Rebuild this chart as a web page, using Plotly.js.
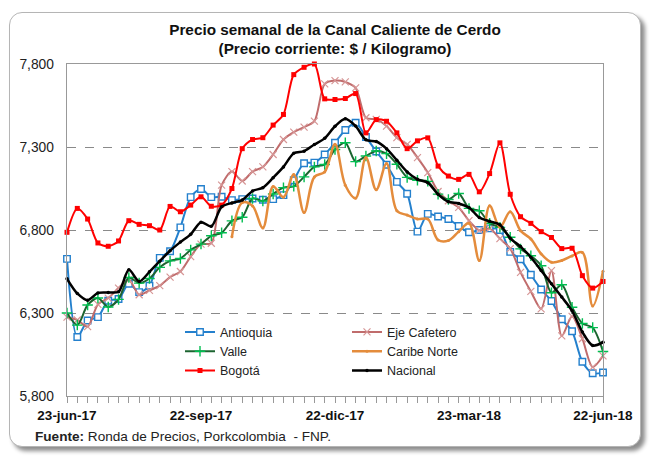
<!DOCTYPE html>
<html>
<head>
<meta charset="utf-8">
<script src="https://cdn.plot.ly/plotly-3.0.1.min.js"></script>
<style>
html,body{margin:0;padding:0;background:#fff;}
#wrap{position:relative;width:651px;height:456px;overflow:hidden;}
#frame{position:absolute;left:9px;top:12px;width:630px;height:433px;border:1.5px solid #b5b5b5;border-radius:13px;box-shadow:4px 4px 4px rgba(0,0,0,0.45);background:#fff;}
#chart{position:absolute;left:0;top:0;width:651px;height:456px;}
</style>
</head>
<body>
<div id="wrap"><div id="frame"></div><div id="chart"></div></div>
<script>
const weeks = [
 '2017-06-23','2017-06-30','2017-07-07','2017-07-14','2017-07-21','2017-07-28','2017-08-04','2017-08-11','2017-08-18','2017-08-25',
 '2017-09-01','2017-09-08','2017-09-15','2017-09-22','2017-09-29','2017-10-06','2017-10-13','2017-10-20','2017-10-27','2017-11-03',
 '2017-11-10','2017-11-17','2017-11-24','2017-12-01','2017-12-08','2017-12-15','2017-12-22','2017-12-29','2018-01-05','2018-01-12',
 '2018-01-19','2018-01-26','2018-02-02','2018-02-09','2018-02-16','2018-02-23','2018-03-02','2018-03-09','2018-03-16','2018-03-23',
 '2018-03-30','2018-04-06','2018-04-13','2018-04-20','2018-04-27','2018-05-04','2018-05-11','2018-05-18','2018-05-25','2018-06-01',
 '2018-06-08','2018-06-15','2018-06-22'];

const labelDates = ['2017-06-23','2017-09-22','2017-12-22','2018-03-23','2018-06-22'];
const labelTexts = ['23-jun-17','22-sep-17','22-dic-17','23-mar-18','22-jun-18'];

const antioquia = [6626,6155,6255,6275,6374,6384,6476,6426,6464,6632,6672,6816,6998,7047,6998,7000,6980,6986,6990,6982,
 6986,7010,7100,7202,7206,7255,7326,7402,7446,7360,7273,7193,7090,7018,6790,6897,6881,6866,6824,6786,
 6800,6810,6800,6668,6624,6530,6442,6372,6262,6190,6006,5937,5942];
const ejeCafetero = [6275,6258,6218,6352,6390,6450,6500,6410,6436,6465,6516,6550,6640,6715,6720,7070,7152,7095,7152,7180,
 7255,7345,7390,7420,7456,7680,7700,7692,7656,7476,7466,7426,7356,7316,7236,7146,7032,6976,6936,6856,
 6798,6808,6748,6688,6545,6430,6325,6555,6162,6280,6145,5974,6042];
const valle = [6300,6227,6348,6390,6336,6382,6514,6480,6508,6575,6614,6628,6680,6715,6765,6783,6855,6877,6990,6975,
 7017,7055,7063,7120,7180,7195,7285,7326,7212,7246,7276,7260,7196,7117,7100,7093,7016,6984,7020,6930,
 6916,6840,6816,6756,6686,6645,6585,6422,6470,6335,6237,6212,6068];
const caribeNorte = [null,null,null,null,null,null,null,null,null,null,null,null,null,null,null,null,6760,6965,6945,6812,
 7062,6998,7135,6905,7120,7150,7316,7070,6992,7236,7042,7200,6916,6890,6866,6866,6740,6736,6790,6840,
 6616,6946,6816,6910,6796,6746,6656,6606,6616,6644,6665,6342,6552];
const bogota = [6786,6930,6866,6722,6702,6734,6856,6834,6826,6800,6942,6910,6950,7000,6943,6950,7050,7290,7345,7356,
 7432,7496,7736,7780,7800,7590,7586,7592,7622,7385,7465,7455,7385,7290,7337,7355,7185,7125,7105,7135,
 7030,7140,7325,7015,6880,6840,6790,6755,6688,6690,6525,6450,6490];
const nacional = [6506,6418,6377,6421,6424,6428,6560,6490,6548,6612,6675,6727,6774,6847,6822,6940,6963,6980,7035,7055,
 7115,7180,7262,7275,7315,7352,7425,7470,7426,7343,7333,7290,7220,7150,7105,7085,7015,6970,6960,6935,
 6875,6852,6832,6750,6700,6636,6556,6476,6396,6313,6185,6104,6124];

const FONT = 'Liberation Sans, Arial, sans-serif';
const sm = 0.8;

const traces = [
 {name:'Antioquia', y: antioquia, legend:'legend', line:{color:'rgb(36,128,205)', width:2, shape:'spline', smoothing:sm},
  marker:{symbol:'square', size:6.5, color:'#ffffff', line:{color:'rgb(36,128,205)', width:1.4}}},
 {name:'Eje Cafetero', y: ejeCafetero, legend:'legend2', line:{color:'rgb(192,108,108)', width:2, shape:'spline', smoothing:sm},
  marker:{symbol:'x-thin-open', size:7, color:'rgb(214,150,150)', line:{color:'rgb(214,150,150)', width:1.2}}},
 {name:'Valle', y: valle, legend:'legend', line:{color:'rgb(28,100,48)', width:2, shape:'spline', smoothing:sm},
  marker:{symbol:'cross-thin-open', size:7.5, color:'rgb(0,190,80)', line:{color:'rgb(0,190,80)', width:1.4}}},
 {name:'Caribe Norte', y: caribeNorte, legend:'legend2', line:{color:'rgb(228,140,60)', width:2.5, shape:'spline', smoothing:1}, connectgaps:false,
  marker:{symbol:'circle', size:3, color:'rgb(228,140,60)'}},
 {name:'Bogotá', y: bogota, legend:'legend', line:{color:'rgb(255,0,0)', width:2, shape:'spline', smoothing:sm},
  marker:{symbol:'square', size:5, color:'rgb(255,0,0)'}},
 {name:'Nacional', y: nacional, legend:'legend2', line:{color:'#000000', width:2.5, shape:'spline', smoothing:sm},
  marker:{symbol:'circle', size:3.5, color:'#000000'}}
].map(t => Object.assign({x: weeks, type:'scatter', mode:'lines+markers', cliponaxis:false}, t));

const tickText = weeks.map(d => { const k = labelDates.indexOf(d); return k >= 0 ? labelTexts[k] : ''; });

const legendBase = {orientation:'v', xanchor:'left', yanchor:'top', y:0.237,
  font:{family:FONT, size:12.5, color:'#222'}, bgcolor:'rgba(255,255,255,0)', tracegroupgap:0, traceorder:'normal'};

const layout = {
  width:651, height:456,
  paper_bgcolor:'rgba(0,0,0,0)', plot_bgcolor:'rgba(0,0,0,0)',
  margin:{l:67, r:48, t:64, b:60},
  font:{family:FONT, color:'#222'},
  title:{text:'<b>Precio semanal de la Canal Caliente de Cerdo</b><br><b>(Precio corriente: $ / Kilogramo)</b>',
    font:{family:FONT, size:15.3, color:'#111'}, x:0.5, xref:'paper', xanchor:'center', y:(456-34.5)/456, yref:'container', yanchor:'middle'},
  xaxis:{type:'date', range:['2017-06-23','2018-06-22'], tickmode:'array', tickvals:weeks, ticktext:tickText,
    ticks:'outside', ticklen:6, tickcolor:'#999', tickwidth:1,
    showline:true, linecolor:'#999', linewidth:1.3, mirror:true, showgrid:false, zeroline:false,
    tickfont:{family:FONT, size:13.5, color:'#111', weight:'bold'}, tickangle:0},
  yaxis:{range:[5800,7800], dtick:500, tick0:5800, tickformat:',d', ticks:'', ticklabelstandoff:9,
    showline:true, linecolor:'#999', linewidth:1.3, mirror:true,
    showgrid:true, gridcolor:'#8a8a8a', gridwidth:1, griddash:'dash', zeroline:false,
    tickfont:{family:FONT, size:13.8, color:'#222'}},
  legend: Object.assign({}, legendBase, {x:(180-67)/536}),
  legend2: Object.assign({}, legendBase, {x:(347-67)/536}),
  showlegend:true,
  annotations:[{text:'<b>Fuente:</b> Ronda de Precios, Porkcolombia\u00a0\u00a0- FNP.', xref:'paper', yref:'paper',
    x:(33-67)/536, y:(396-436)/332, xanchor:'left', yanchor:'middle', showarrow:false,
    font:{family:FONT, size:13.6, color:'#222'}}]
};

Plotly.newPlot('chart', traces, layout, {displayModeBar:false, staticPlot:true});
</script>
</body>
</html>
